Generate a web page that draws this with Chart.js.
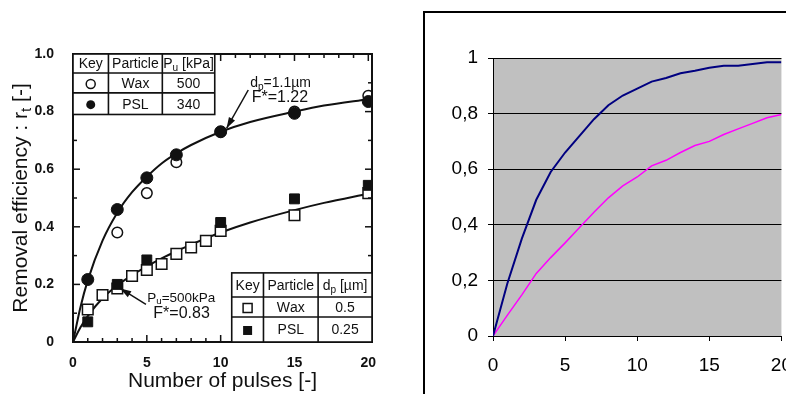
<!DOCTYPE html>
<html>
<head>
<meta charset="utf-8">
<script src="https://cdn.jsdelivr.net/npm/chart.js@4"></script>
<style>
  body { margin: 0; background: #fff; width: 786px; height: 394px; overflow: hidden; position: relative; }
  #leftChart { position: absolute; left: 0; top: 0; }
  #frame { position: absolute; left: 423px; top: 11px; width: 400px; height: 420px; border: 2px solid #000; overflow: hidden; }
  #rightChart { position: absolute; left: 0; top: 0; }
</style>
</head>
<body>
<canvas id="leftChart" width="410" height="394"></canvas>
<div id="frame"><canvas id="rightChart" width="380" height="400"></canvas></div>
<script>
// ---- left chart (measured points + fitted curves) ----
const pslBigX = [1, 3, 5, 7, 10, 15, 20];
const pslBig = [0.217, 0.46, 0.57, 0.65, 0.73, 0.794, 0.835];
const waxBigX = [3, 5, 7, 10, 15, 20];
const waxBig = [0.38, 0.517, 0.624, 0.73, 0.80, 0.855];
const waxSmallX = [1, 2, 3, 4, 5, 6, 7, 8, 9, 10, 15, 20];
const waxSmall = [0.113, 0.163, 0.186, 0.229, 0.25, 0.271, 0.306, 0.328, 0.351, 0.386, 0.44, 0.517];
const pslSmallX = [1, 3, 5, 10, 15, 20];
const pslSmall = [0.07, 0.2, 0.285, 0.415, 0.497, 0.544];
const fitX = [0, 0.5, 1, 2, 3, 4, 5, 6, 7, 8, 10, 12, 15, 17, 20];
const fitUpper = [0, 0.12, 0.214, 0.352, 0.449, 0.52, 0.574, 0.62, 0.655, 0.684, 0.73, 0.764, 0.80, 0.821, 0.843];
const fitLower = [0, 0.05, 0.09, 0.152, 0.196, 0.232, 0.262, 0.29, 0.315, 0.338, 0.38, 0.415, 0.458, 0.483, 0.515];
const leftXTicks = [0, 5, 10, 15, 20];
const leftYTicks = [0, 0.2, 0.4, 0.6, 0.8, 1.0];

// ---- right chart (model curves) ----
const steps = [0, 1, 2, 3, 4, 5, 6, 7, 8, 9, 10, 11, 12, 13, 14, 15, 16, 17, 18, 19, 20];
const blueLine = [0, 0.19, 0.35, 0.49, 0.59, 0.66, 0.72, 0.78, 0.83, 0.865, 0.89, 0.915, 0.928, 0.945, 0.954, 0.965, 0.972, 0.972, 0.978, 0.985, 0.985];
const pinkLine = [0, 0.075, 0.148, 0.225, 0.282, 0.335, 0.39, 0.445, 0.497, 0.54, 0.572, 0.612, 0.632, 0.66, 0.685, 0.7, 0.725, 0.745, 0.765, 0.785, 0.797];

const FONT = 'Arial, "Liberation Sans", sans-serif';
const INK = '#111';

function xy(xs, ys) {
    return xs.map((v, i) => ({ x: v, y: ys[i] }));
}

// text with "_c" meaning c is a subscript
function parts(str) {
    const out = [];
    for (let i = 0; i < str.length; i++) {
        if (str[i] === '_') { out.push([str[i + 1], true]); i++; }
        else out.push([str[i], false]);
    }
    return out;
}

function rich(ctx, str, x, y, size, align, weight) {
    const p = parts(str);
    const w = weight || 'normal';
    let total = 0;
    p.forEach(([c, sub]) => {
        ctx.font = w + ' ' + (sub ? size * 0.72 : size) + 'px ' + FONT;
        total += ctx.measureText(c).width;
    });
    let cx = align === 'center' ? x - total / 2 : (align === 'right' ? x - total : x);
    ctx.textAlign = 'left';
    ctx.textBaseline = 'middle';
    p.forEach(([c, sub]) => {
        ctx.font = w + ' ' + (sub ? size * 0.72 : size) + 'px ' + FONT;
        ctx.fillText(c, cx, sub ? y + size * 0.28 : y);
        cx += ctx.measureText(c).width;
    });
}

function line(ctx, x1, y1, x2, y2) {
    ctx.beginPath();
    ctx.moveTo(x1, y1);
    ctx.lineTo(x2, y2);
    ctx.stroke();
}

function arrow(ctx, x1, y1, x2, y2) {
    line(ctx, x1, y1, x2, y2);
    const a = Math.atan2(y2 - y1, x2 - x1);
    ctx.beginPath();
    ctx.moveTo(x2, y2);
    ctx.lineTo(x2 - 11 * Math.cos(a) + 3.5 * Math.sin(a), y2 - 11 * Math.sin(a) - 3.5 * Math.cos(a));
    ctx.lineTo(x2 - 11 * Math.cos(a) - 3.5 * Math.sin(a), y2 - 11 * Math.sin(a) + 3.5 * Math.cos(a));
    ctx.closePath();
    ctx.fill();
}

function symbol(ctx, kind, x, y) {
    ctx.lineWidth = 1.5;
    ctx.beginPath();
    if (kind === 'oc' || kind === 'fc') ctx.arc(x, y, 4.5, 0, Math.PI * 2);
    else ctx.rect(x - 4.5, y - 4.5, 9, 9);
    if (kind[0] === 'f') ctx.fill(); else ctx.stroke();
}

// key tables, bounds in data units
const table1 = {
    xs: [0, 2.4, 6.05, 9.6], ys: [1.0, 0.934, 0.865, 0.79],
    rows: [['Key', 'Particle', 'P_u [kPa]'], ['oc', 'Wax', '500'], ['fc', 'PSL', '340']]
};
const table2 = {
    xs: [10.75, 12.9, 16.6, 20.25], ys: [0.24, 0.156, 0.087, 0],
    rows: [['Key', 'Particle', 'd_p [µm]'], ['os', 'Wax', '0.5'], ['fs', 'PSL', '0.25']]
};

function drawTable(ctx, x, y, t) {
    const px = t.xs.map(v => x.getPixelForValue(v));
    const py = t.ys.map(v => y.getPixelForValue(v));
    ctx.fillStyle = '#fff';
    ctx.fillRect(px[0], py[0], px[3] - px[0], py[3] - py[0]);
    ctx.strokeStyle = INK;
    ctx.fillStyle = INK;
    ctx.lineWidth = 1.6;
    ctx.strokeRect(px[0], py[0], px[3] - px[0], py[3] - py[0]);
    px.slice(1, 3).forEach(v => line(ctx, v, py[0], v, py[3]));
    py.slice(1, 3).forEach(v => line(ctx, px[0], v, px[3], v));
    t.rows.forEach((row, r) => {
        const cy = (py[r] + py[r + 1]) / 2 + 1;
        row.forEach((cell, c) => {
            const cx = (px[c] + px[c + 1]) / 2;
            if (r > 0 && c === 0) symbol(ctx, cell, cx, cy);
            else rich(ctx, cell, cx, cy, 14, 'center');
        });
    });
}

const leftDecor = {
    id: 'leftDecor',
    afterDatasetsDraw(chart) {
        const { ctx, chartArea: a, scales: { x, y } } = chart;
        ctx.save();
        ctx.strokeStyle = INK;
        ctx.fillStyle = INK;
        ctx.lineWidth = 1.5;
        for (let v = 0; v <= 20; v++) {
            const p = x.getPixelForValue(v);
            const L = v % 5 === 0 ? 7 : 4;
            line(ctx, p, a.bottom, p, a.bottom - L);
            line(ctx, p, a.top, p, a.top + L);
        }
        for (let i = 0; i <= 10; i++) {
            const p = y.getPixelForValue(i / 10);
            const L = i % 2 === 0 ? 7 : 4;
            line(ctx, a.left, p, a.left + L, p);
            line(ctx, a.right, p, a.right - L, p);
        }
        ctx.lineWidth = 2;
        ctx.strokeRect(a.left, a.top, a.right - a.left, a.bottom - a.top);

        drawTable(ctx, x, y, table1);
        drawTable(ctx, x, y, table2);

        // annotations
        ctx.fillStyle = INK;
        ctx.strokeStyle = INK;
        rich(ctx, 'd_p=1.1µm', x.getPixelForValue(12.0), y.getPixelForValue(0.899), 14, 'left');
        rich(ctx, 'F*=1.22', x.getPixelForValue(12.1), y.getPixelForValue(0.847), 16, 'left');
        ctx.lineWidth = 1.5;
        arrow(ctx, x.getPixelForValue(11.87), y.getPixelForValue(0.875), x.getPixelForValue(10.4), y.getPixelForValue(0.742));
        rich(ctx, 'P_u=500kPa', x.getPixelForValue(5.03), y.getPixelForValue(0.153), 13.5, 'left');
        rich(ctx, 'F*=0.83', x.getPixelForValue(5.44), y.getPixelForValue(0.097), 16, 'left');
        arrow(ctx, x.getPixelForValue(4.94), y.getPixelForValue(0.131), x.getPixelForValue(3.2), y.getPixelForValue(0.186));

        // y title
        ctx.translate(21, (a.top + a.bottom) / 2);
        ctx.rotate(-Math.PI / 2);
        rich(ctx, 'Removal efficiency : r_t [-]', 0, 0, 21, 'center');
        ctx.restore();
    }
};

new Chart(document.getElementById('leftChart'), {
    type: 'scatter',
    data: {
        datasets: [
            { data: xy(pslBigX, pslBig), pointStyle: 'circle', pointRadius: 6, backgroundColor: INK, borderColor: INK, borderWidth: 1 },
            { data: xy(waxBigX, waxBig), pointStyle: 'circle', pointRadius: 5.3, backgroundColor: '#fff', borderColor: INK, borderWidth: 1.5 },
            { data: xy(pslSmallX, pslSmall), pointStyle: 'rect', pointRadius: 7, backgroundColor: INK, borderColor: INK, borderWidth: 1 },
            { data: xy(waxSmallX, waxSmall), pointStyle: 'rect', pointRadius: 7.5, backgroundColor: '#fff', borderColor: INK, borderWidth: 1.5 },
            { data: xy(fitX, fitUpper), showLine: true, pointRadius: 0, borderColor: INK, borderWidth: 2, cubicInterpolationMode: 'monotone' },
            { data: xy(fitX, fitLower), showLine: true, pointRadius: 0, borderColor: INK, borderWidth: 2, cubicInterpolationMode: 'monotone' }
        ]
    },
    options: {
        responsive: false,
        animation: false,
        devicePixelRatio: 1,
        layout: { padding: { left: 0, top: 54, right: 38, bottom: 0 } },
        plugins: { legend: { display: false }, tooltip: { enabled: false } },
        scales: {
            x: {
                min: 0, max: 20.25,
                afterFit: s => { s.height = 52; },
                afterBuildTicks: s => { s.ticks = leftXTicks.map(v => ({ value: v })); },
                grid: { display: false },
                border: { display: false },
                ticks: { color: INK, padding: 5, font: { family: FONT, size: 14, weight: 'bold' } },
                title: { display: true, text: 'Number of pulses [-]', color: INK, padding: 0, font: { family: FONT, size: 21 } }
            },
            y: {
                min: 0, max: 1,
                afterFit: s => { s.width = 73; },
                afterBuildTicks: s => { s.ticks = leftYTicks.map(v => ({ value: v })); },
                grid: { display: false },
                border: { display: false },
                ticks: { color: INK, padding: 11, font: { family: FONT, size: 14, weight: 'bold' },
                    callback: v => v === 0 ? '0' : v.toFixed(1) }
            }
        }
    },
    plugins: [leftDecor]
});

const grayArea = {
    id: 'grayArea',
    beforeDraw(chart) {
        const { ctx, chartArea: a } = chart;
        ctx.save();
        ctx.fillStyle = '#C0C0C0';
        ctx.fillRect(a.left, a.top, a.right - a.left, a.bottom - a.top);
        ctx.restore();
    }
};

new Chart(document.getElementById('rightChart'), {
    type: 'scatter',
    data: {
        datasets: [
            { data: xy(steps, blueLine), showLine: true, pointRadius: 0, borderColor: '#000080', borderWidth: 2, tension: 0 },
            { data: xy(steps, pinkLine), showLine: true, pointRadius: 0, borderColor: '#FF00FF', borderWidth: 1.5, tension: 0 }
        ]
    },
    options: {
        responsive: false,
        animation: false,
        devicePixelRatio: 1,
        layout: { padding: { left: 0, top: 45, right: 19, bottom: 0 } },
        plugins: { legend: { display: false }, tooltip: { enabled: false } },
        scales: {
            x: {
                min: 0, max: 20,
                afterFit: s => { s.height = 77; },
                grid: { drawOnChartArea: false, color: '#000', tickLength: 5 },
                border: { color: '#000', width: 1 },
                ticks: { stepSize: 5, color: '#000', padding: 13, font: { family: FONT, size: 19 } }
            },
            y: {
                min: 0, max: 1,
                afterFit: s => { s.width = 68; },
                grid: { color: '#000', tickLength: 5 },
                border: { color: '#000', width: 1 },
                ticks: { stepSize: 0.2, color: '#000', padding: 10, font: { family: FONT, size: 19 },
                    callback: v => String(Math.round(v * 10) / 10).replace('.', ',') }
            }
        }
    },
    plugins: [grayArea]
});
</script>
</body>
</html>
